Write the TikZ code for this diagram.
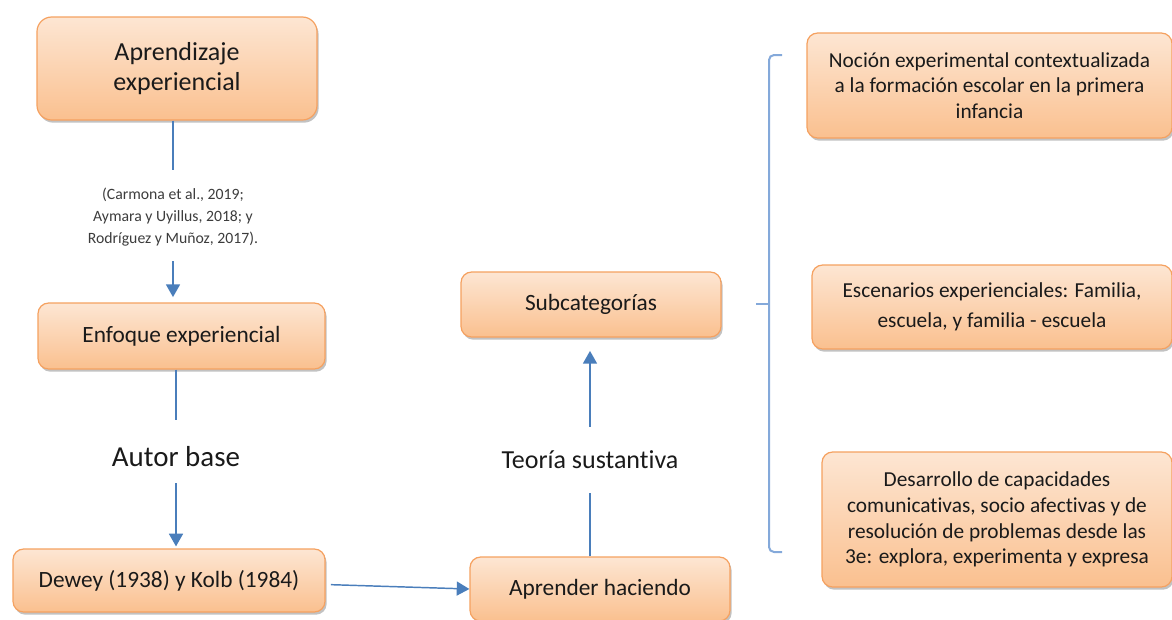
\documentclass[tikz,border=0pt]{standalone}
\usepackage{fontspec}
\setmainfont{Carlito}[Ligatures={NoCommon},Contextuals={NoAlternate},RawFeature={-clig}]
\usetikzlibrary{arrows.meta,shadows}
\definecolor{boxedge}{HTML}{F5A160}
\definecolor{boxtop}{HTML}{FDE6D3}
\definecolor{boxbot}{HTML}{FAC08F}
\definecolor{linkblue}{HTML}{4A7EBB}
\definecolor{bracecol}{HTML}{84A9DA}
\definecolor{txt}{HTML}{1A1A1A}
\begin{document}
\begin{tikzpicture}[x=0.75pt,y=-0.75pt,
  obox/.style={draw=boxedge, line width=0.9pt, rounded corners=8pt,
    top color=boxtop, bottom color=boxbot,
    drop shadow={shadow xshift=1.2pt, shadow yshift=-2pt, opacity=0.4, fill=black!60},
    align=center, inner sep=2pt, text=txt},
  lbl/.style={align=center, text=txt, inner sep=1pt},
  conn/.style={draw=linkblue, line width=1.1pt},
  arr/.style={conn, -{Triangle[width=10.5pt,length=9.5pt]}},
  brace/.style={draw=bracecol, line width=1.5pt}]
\useasboundingbox (0,0) rectangle (1172,619);
\clip (0,0) rectangle (1172,619);
% left column
\node[obox, minimum width=210pt, minimum height=77.25pt, rounded corners=11pt,
  font=\fontsize{19.5}{22.5}\selectfont] (b1) at (177,68.5) {Aprendizaje\\experiencial};
\node[lbl, text=txt!85, font=\fontsize{11.8}{16.5}\selectfont] (cit) at (173,217)
  {(Carmona et al., 2019;\\Aymara y Uyillus, 2018; y\\Rodríguez y Muñoz, 2017).};
\node[obox, minimum width=215.25pt, minimum height=49.5pt,
  font=\fontsize{17.5}{21}\selectfont] (b2) at (181.5,336) {Enfoque experiencial};
\node[lbl, font=\fontsize{21.7}{26}\selectfont] (autor) at (176,457) {Autor base};
\node[obox, minimum width=234pt, minimum height=47.25pt,
  font=\fontsize{17.5}{21}\selectfont] (b3) at (169,580.5) {Dewey (1938) y Kolb (1984)};
% middle column
\node[obox, minimum width=195pt, minimum height=48pt,
  font=\fontsize{17.5}{21}\selectfont] (b4) at (600,589) {Aprender haciendo};
\node[lbl, font=\fontsize{19.5}{23}\selectfont] (teoria) at (590,460) {Teoría sustantiva};
\node[obox, minimum width=195pt, minimum height=48.75pt,
  font=\fontsize{17.5}{21}\selectfont] (b5) at (591,304.5) {Subcategorías};
% right column
\node[obox, minimum width=273.75pt, minimum height=78.75pt,
  font=\fontsize{16}{19.2}\selectfont] (b6) at (989.5,85.5)
  {Noción experimental contextualizada\\a la formación escolar en la primera\\infancia};
\node[obox, minimum width=270pt, minimum height=63pt,
  font=\fontsize{16}{22.5}\selectfont] (b7) at (992,307)
  {Escenarios experienciales: Familia,\\escuela, y familia - escuela};
\node[obox, minimum width=262.5pt, minimum height=101.25pt,
  font=\fontsize{16}{19.3}\selectfont] (b8) at (997,519.5)
  {Desarrollo de capacidades\\comunicativas, socio afectivas y de\\resolución de problemas desde las\\3e: explora, experimenta y expresa};
% connectors
\draw[conn, shorten >=12pt] (b1.south -| cit) -- (cit);
\draw[arr, shorten <=10pt, shorten >=4pt] (cit) -- (b2.north -| cit);
\draw[conn, shorten >=19pt] (b2.south -| autor) -- (autor);
\draw[arr, shorten <=11pt, shorten >=1.5pt] (autor) -- (b3.north -| autor);
\draw[arr, shorten <=4pt] ([yshift=-3pt]b3.east) -- (b4.west);
\draw[conn, shorten >=16.5pt] (b4.north -| teoria) -- (teoria);
\draw[arr, shorten <=17pt, shorten >=10pt] (teoria) -- (b5.south -| teoria);
% brace
\coordinate (bt) at (782,55);
\coordinate (bb) at (782,552);
\coordinate (bm) at (756,304);
\coordinate (bx) at (769,304);
\draw[brace] (bt) -- (774,55) to[out=180,in=90] (769,60) -- (769,547)
  to[out=-90,in=180] (774,552) -- (bb);
\draw[brace] (bx) -- (bm);
\end{tikzpicture}
\end{document}
